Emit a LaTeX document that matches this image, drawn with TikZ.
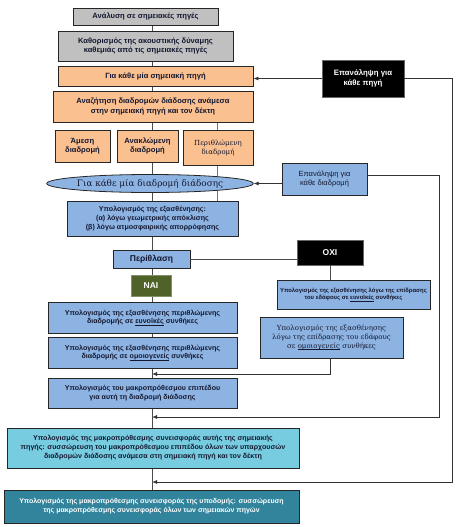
\documentclass[tikz,border=0pt]{standalone}
\usepackage{fontspec}
\setmainfont{Liberation Sans}
\newfontfamily\serifgr{DejaVu Serif}
\usetikzlibrary{shapes.geometric,arrows.meta,backgrounds}
\newcommand\ulword[1]{\setbox0\hbox{#1}\rlap{\rule[-1.4pt]{\wd0}{0.5pt}}\box0\relax}
\definecolor{boxgray}{RGB}{192,192,192}
\definecolor{boxorange}{RGB}{250,192,144}
\definecolor{boxblue}{RGB}{141,179,226}
\definecolor{boxgreen}{RGB}{79,98,40}
\definecolor{boxcyan}{RGB}{120,204,224}
\definecolor{boxteal}{RGB}{49,132,155}
\definecolor{textnavy}{RGB}{20,24,48}

\begin{document}
\begin{tikzpicture}[x=1pt,y=-1pt,>={Latex[length=5pt,width=4pt]}]
        \tikzstyle{every node}=[draw=black!85,line width=0.8pt,align=center,inner sep=1pt,text=textnavy,font=\fontsize{7.6}{9.2}\selectfont\bfseries]
        \tikzstyle{graybox}=[fill=boxgray]
        \tikzstyle{orangebox}=[fill=boxorange]
        \tikzstyle{bluebox}=[fill=boxblue,font=\fontsize{7.1}{8.8}\selectfont\bfseries]
        \tikzstyle{blackbox}=[fill=black,text=white,draw=black!60]
        \tikzstyle{serifbox}=[font=\serifgr\fontsize{7}{9}\selectfont]
        \tikzstyle{spineline}=[draw=black!70,line width=0.8pt]
        \tikzstyle{loopline}=[draw=black!80,line width=0.8pt]
        \useasboundingbox (0,0) rectangle (460,527);
        \coordinate (spine) at (152,0);
        \coordinate (branch) at (217,0);
        \coordinate (groundjoin) at (0,374);
        \coordinate (pathloop) at (439,417);
        \coordinate (srcloop) at (452,482);
        \node[graybox,minimum width=145,minimum height=17] (src) at (145.5,16.5) {Ανάλυση σε σημειακές πηγές};
        \node[graybox,minimum width=175,minimum height=30] (pow) at (145.5,46) {Καθορισμός της ακουστικής δύναμης\\καθεμιάς από τις σημειακές πηγές};
        \node[orangebox,minimum width=195,minimum height=20] (forsrc) at (155.5,76) {Για κάθε μία σημειακή πηγή};
        \node[orangebox,minimum width=200,minimum height=31] (paths) at (153,106.5) {Αναζήτηση διαδρομών διάδοσης ανάμεσα\\στην σημειακή πηγή και τον δέκτη};
        \node[orangebox,minimum width=55,minimum height=32] (direct) at (82.5,146) {Άμεση\\διαδρομή};
        \node[orangebox,minimum width=61,minimum height=32] (reflected) at (147.5,146) {Ανακλώμενη\\διαδρομή};
        \node[orangebox,serifbox,minimum width=70,minimum height=35] (diffr) at (218,147.5) {Περιθλώμενη\\διαδρομή};
        \node[ellipse,fill=boxblue,serifbox,font=\serifgr\fontsize{8.8}{10}\selectfont,minimum width=200,minimum height=18,inner sep=0pt] (forpath) at (150,183.5) {Για κάθε μία διαδρομή διάδοσης};
        \node[bluebox,minimum width=171,minimum height=35] (atten) at (152.5,218.5) {Υπολογισμός της εξασθένησης:\\(α) λόγω γεωμετρικής απόκλισης\\(β) λόγω ατμοσφαιρικής απορρόφησης};
        \node[bluebox,font=\fontsize{8.5}{10}\selectfont\bfseries,minimum width=77,minimum height=18] (diffrcalc) at (151.5,259) {Περίθλαση};
        \node[fill=boxgreen,text=white,draw=boxgreen!70,font=\fontsize{8.5}{10}\selectfont\bfseries,minimum width=40,minimum height=21] (yes) at (151,285.5) {ΝΑΙ};
        \node[bluebox,minimum width=189,minimum height=31] (favdiff) at (142.5,317.5) {Υπολογισμός της εξασθένησης περιθλώμενης\\διαδρομής σε \ulword{ευνοϊκές} συνθήκες};
        \node[bluebox,minimum width=189,minimum height=31] (homdiff) at (142.5,352.5) {Υπολογισμός της εξασθένησης περιθλώμενης\\διαδρομής σε \ulword{ομοιογενείς} συνθήκες};
        \node[bluebox,minimum width=189,minimum height=30] (level) at (142.5,393) {Υπολογισμός του μακροπρόθεσμου επιπέδου\\για αυτή τη διαδρομή διάδοσης};
        \node[fill=boxcyan,minimum width=292,minimum height=40,font=\fontsize{7.1}{9}\selectfont\bfseries] (ctrb) at (153,448) {Υπολογισμός της μακροπρόθεσμης συνεισφοράς αυτής της σημειακής\\πηγής: συσσώρευση του μακροπρόθεσμου επιπέδου όλων των υπαρχουσών\\διαδρομών διάδοσης ανάμεσα στη σημειακή πηγή και τον δέκτη};
        \node[fill=boxteal,text=white,minimum width=295,minimum height=33,font=\fontsize{7}{9}\selectfont\bfseries] (total) at (151.5,506.5) {Υπολογισμός της μακροπρόθεσμης συνεισφοράς της υποδομής: συσσώρευση\\της μακροπρόθεσμης συνεισφοράς όλων των σημειακών πηγών};
        \node[blackbox,font=\fontsize{8.5}{10}\selectfont\bfseries,minimum width=66,minimum height=25] (no) at (330,252.5) {ΟΧΙ};
        \node[bluebox,font=\fontsize{5.9}{7.6}\selectfont\bfseries,minimum width=153,minimum height=29] (favground) at (353.5,294.5) {Υπολογισμός της εξασθένησης λόγω της επίδρασης\\του εδάφους σε \ulword{ευνοϊκές} συνθήκες};
        \node[bluebox,serifbox,minimum width=143,minimum height=41] (homground) at (331.5,337.5) {Υπολογισμός της εξασθένησης\\λόγω της επίδρασης του εδάφους\\σε \ulword{ομοιογενείς} συνθήκες};
        \node[bluebox,font=\fontsize{7.5}{9}\selectfont,minimum width=85,minimum height=32] (reppath) at (324.5,179) {Επανάληψη για\\κάθε διαδρομή};
        \node[blackbox,font=\fontsize{7.8}{9.4}\selectfont\bfseries,minimum width=82,minimum height=37] (repsrc) at (363,78.5) {Επανάληψη για\\κάθε πηγή};
        \begin{scope}[on background layer]
            \foreach \a/\b in {src/pow,pow/forsrc,forsrc/paths,paths/reflected,reflected/forpath,forpath/atten,atten/diffrcalc,diffrcalc/yes,yes/favdiff,favdiff/homdiff,homdiff/level,level/ctrb,ctrb/total}
                \draw[spineline] (\a.south -| spine) -- (\b.north -| spine);
            \draw[spineline,draw=black!55] (paths.south -| branch) -- (diffr.north -| branch);
            \draw[spineline,draw=black!55] (diffr.south -| branch) -- (atten.north -| branch);
        \end{scope}
        \draw[spineline] (diffrcalc.east) -- (diffrcalc.east -| no.west);
        \draw[spineline] (no.south) -- (no.south |- favground.north);
        \draw[loopline,->] (homground.south -| no.south) |- (groundjoin -| spine);
        \draw[loopline,->] (repsrc.west) -- (repsrc.west -| forsrc.east);
        \draw[loopline,->] (repsrc.east) -| (srcloop) -- (srcloop -| spine);
        \draw[loopline,->] (reppath.west |- forpath.east) -- (forpath.east);
        \draw[loopline,->] ([yshift=4pt]reppath.east) -| (pathloop) -- (pathloop -| spine);
    \end{tikzpicture}
\end{document}
